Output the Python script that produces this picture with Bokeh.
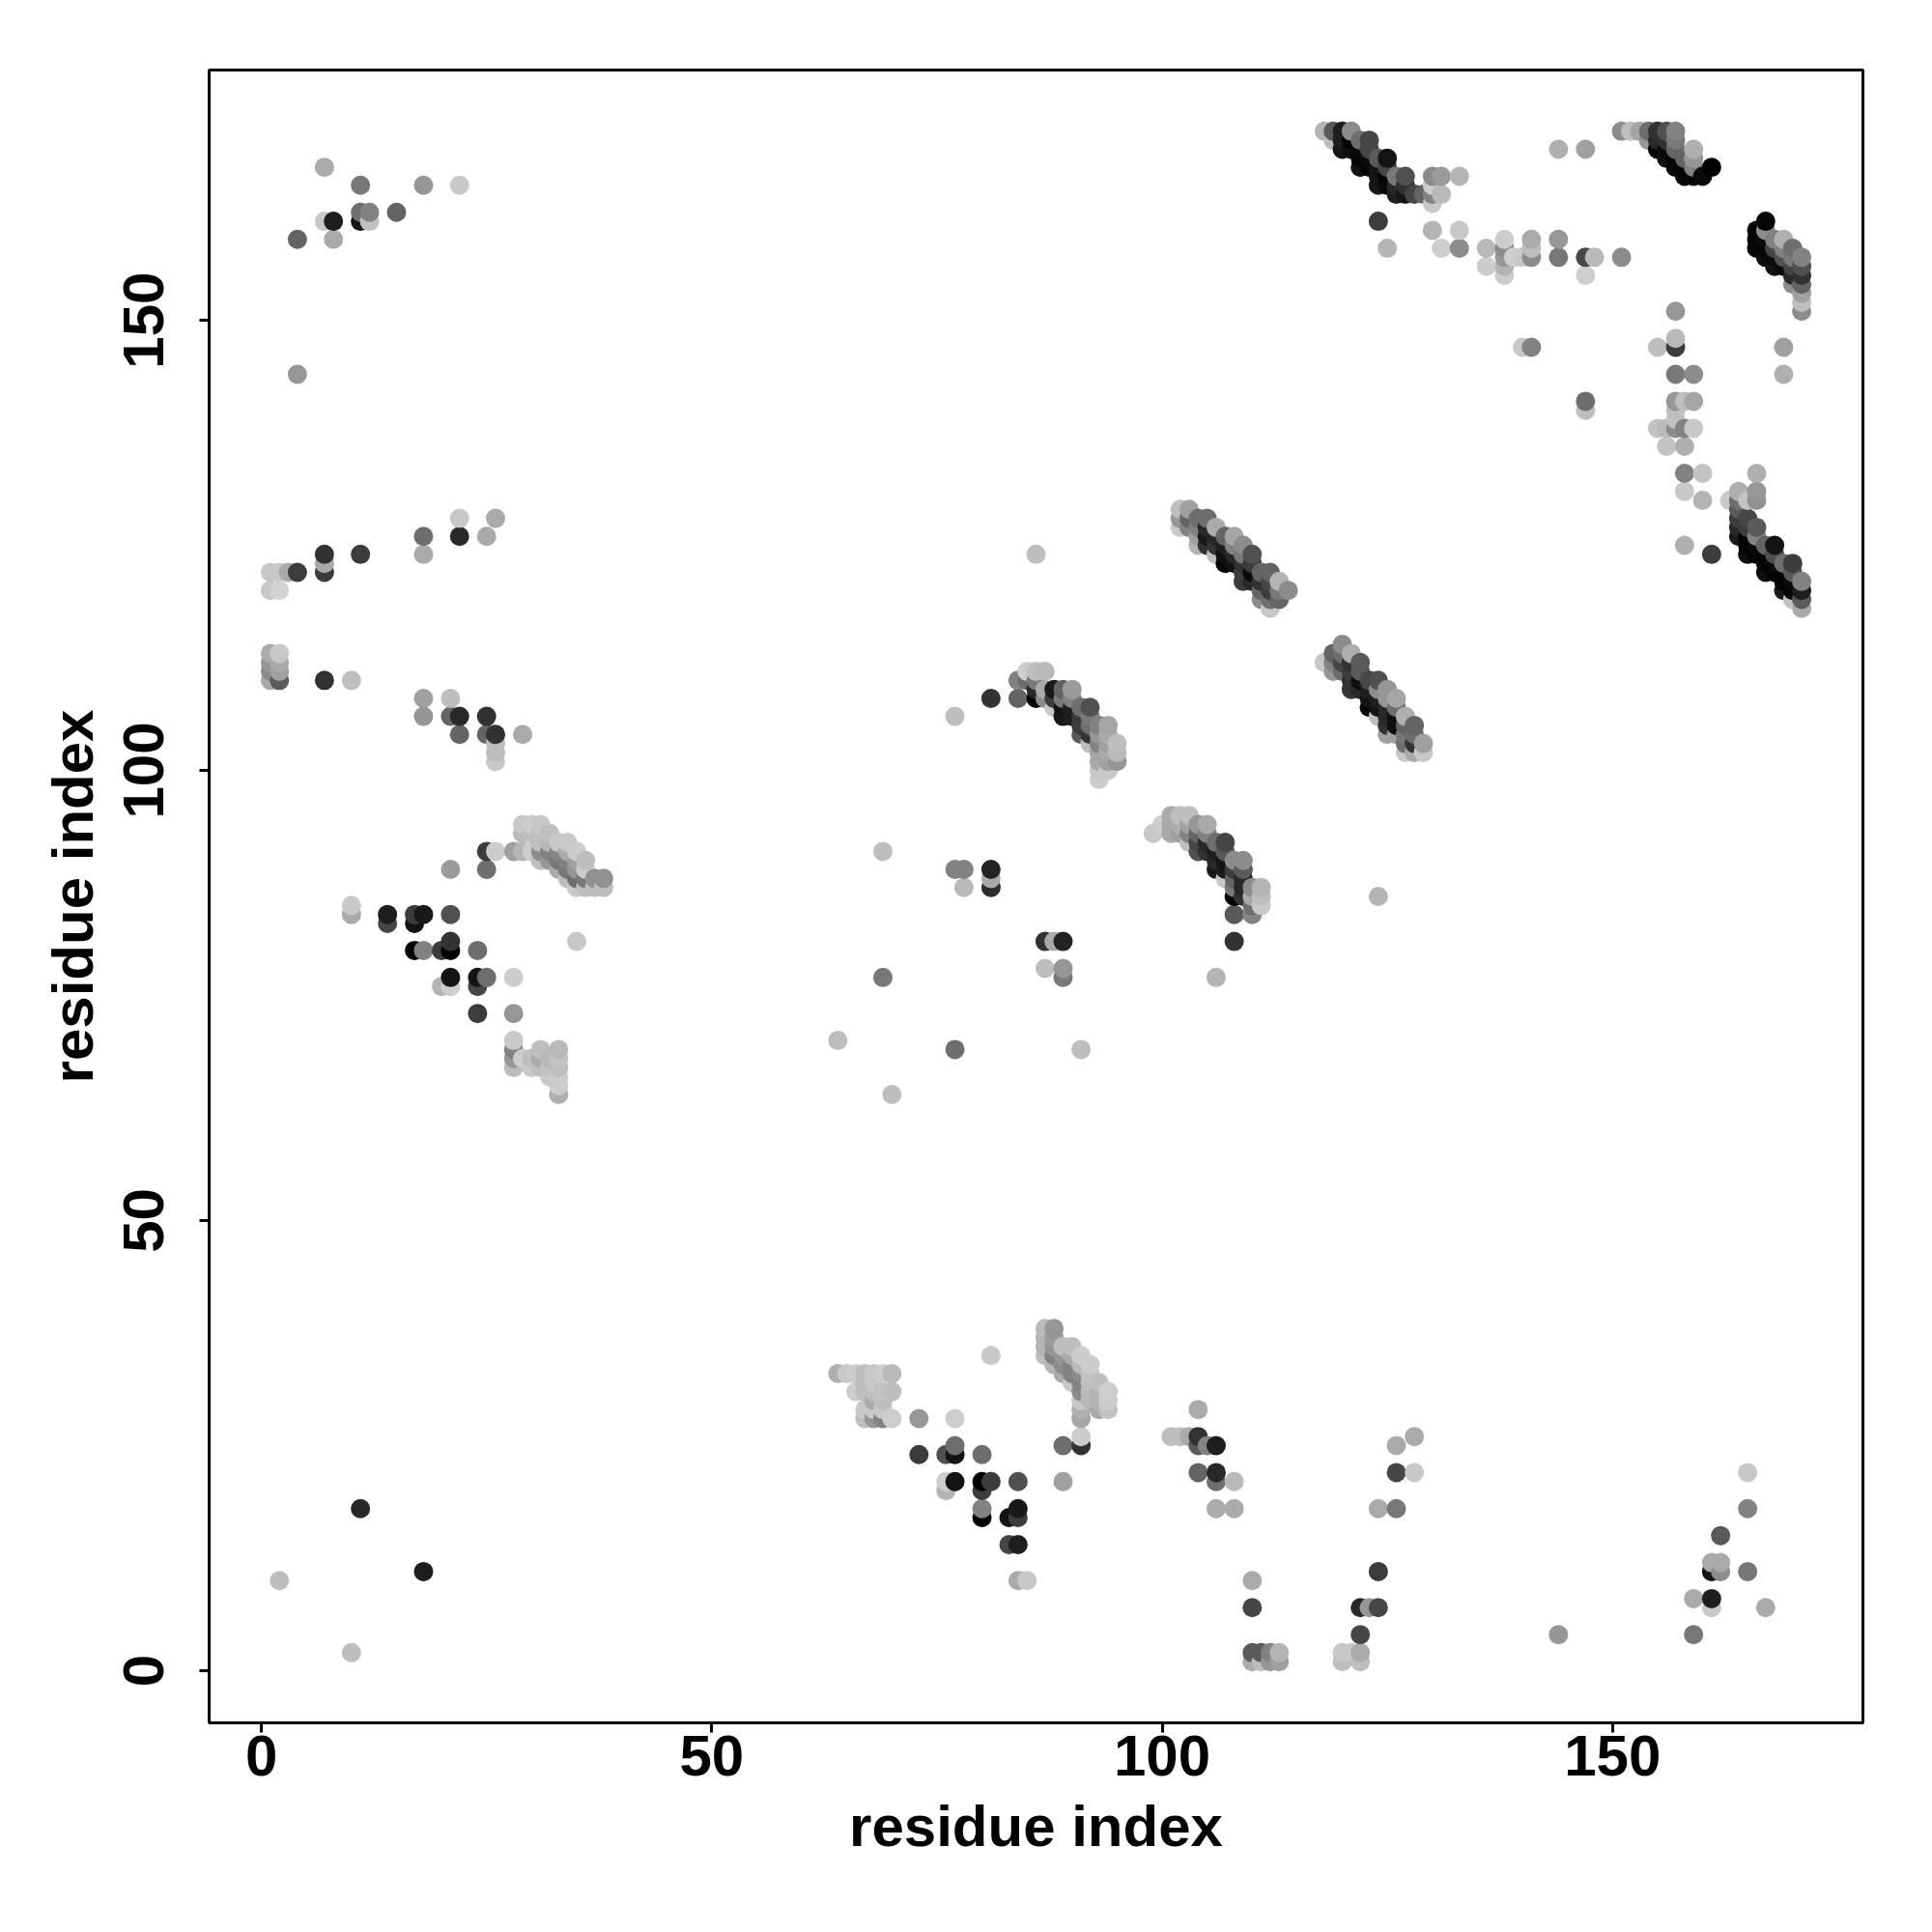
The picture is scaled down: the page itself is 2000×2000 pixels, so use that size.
from bokeh.plotting import figure
from bokeh.embed import file_html
from bokeh.resources import INLINE
from bokeh.models import FixedTicker, Range1d

tick_values = [0, 50, 100, 150]
axis_title = "residue index"

# each entry: residue i, residue j, grey level
upper_left = [
    (7,167,170),(11,165,120),(18,165,150),(22,165,200),(11,162,110),(12,162,130),(15,162,100),
    (7,161,200),(8,161,30),(11,161,20),(12,161,190),(4,159,100),(8,159,170),(4,144,150),
]
left_mid = [
    (22,128,200),(26,128,170),(18,126,110),(22,126,40),(25,126,170),(7,124,50),(11,124,60),(18,124,170),
    (7,123,170),(7,122,60),(1,122,200),(2,122,200),(3,122,170),(4,122,60),(1,120,200),(2,120,210),
    (1,113,170),(2,113,200),(1,112,150),(2,112,170),(1,111,140),(2,111,160),(1,110,170),(2,110,90),
    (7,110,50),(10,110,190),(18,108,160),(21,108,190),(18,106,150),(21,106,100),(22,106,40),(25,106,50),
    (22,104,100),(25,104,100),(26,104,50),(29,104,170),(26,103,190),(26,102,190),(26,101,200),
]
left_lower = [
    (25,91,60),(26,91,205),(21,89,155),(25,89,110),(10,85,200),(10,84,170),(14,84,30),(14,83,70),
    (17,84,60),(17,83,20),(18,84,25),(21,84,80),(17,80,5),(18,80,130),(20,80,60),(21,80,0),(21,81,50),(24,80,110),
    (21,77,20),(20,76,180),(21,76,205),(24,77,20),(24,76,70),(25,77,110),(28,77,205),(24,73,60),(28,73,150),
    (28,70,200),(28,69,130),(28,68,150),(28,67,190),(29,68,205),(30,67,200),(30,68,190),(31,69,190),(31,68,170),
    (31,67,190),(32,68,185),(32,67,195),(32,66,200),(33,69,185),(33,68,195),(33,67,190),(33,66,205),(33,65,205),(33,64,175),(35,81,200),
]
arc_a = [
    (29,94,200),(30,94,205),(31,94,200),(29,93,185),(30,93,190),(31,93,190),(32,93,190),
    (31,92,190),(32,92,185),(33,92,200),(34,92,200),(28,91,160),(29,91,180),(30,91,205),
    (31,91,140),(32,91,130),(33,91,135),(34,91,170),(35,91,205),
    (31,90,190),(32,90,150),(33,90,120),(34,90,130),(35,90,160),(36,90,190),
    (33,89,170),(34,89,120),(35,89,150),(36,89,205),
    (34,88,190),(35,88,110),(36,88,120),(37,88,145),(38,88,145),
    (35,87,200),(36,87,190),(37,87,190),(38,87,190),
]
bottom_left = [(2,10,190),(10,2,190),(11,18,40),(18,11,30)]
fan_b = [
    (64,33,175),(65,33,200),(66,33,205),(67,33,190),(68,33,200),(69,33,205),(70,33,185),
    (67,32,190),(68,32,200),(66,31,205),(67,31,190),(68,31,190),(69,31,195),(70,31,190),
    (68,30,170),(69,30,190),(67,29,200),(68,29,200),(69,29,200),
    (67,28,190),(68,28,150),(69,28,130),(70,28,205),(73,28,150),(77,28,205),
    (73,24,60),(76,24,80),(77,24,20),(77,25,110),(80,24,110),
    (76,21,205),(76,20,180),(77,21,20),(80,21,0),(81,21,60),(80,20,60),(84,21,80),(89,21,160),
    (80,18,130),(80,17,0),(83,17,20),(84,18,25),(84,17,60),(83,14,70),(84,14,30),(84,10,170),(85,10,200),(81,35,200),
    (89,25,110),(91,25,50),(91,26,205),
]
arc_c = [
    (87,38,185),(88,38,150),(87,37,180),(88,37,155),(87,36,180),(88,36,150),(89,36,190),(90,36,190),
    (87,35,190),(88,35,130),(89,35,150),(90,35,170),(91,35,205),
    (88,34,180),(89,34,140),(90,34,130),(91,34,185),(92,34,205),
    (89,33,170),(90,33,130),(91,33,140),(92,33,195),
    (90,32,200),(91,32,130),(92,32,190),(93,32,190),
    (91,31,140),(92,31,185),(93,31,180),(94,31,205),
    (91,30,200),(92,30,185),(93,30,180),(94,30,205),
    (91,29,175),(93,29,170),(94,29,195),(91,28,165),
]
bottom_right = [
    (104,29,170),(101,26,190),(102,26,190),(103,26,170),(104,26,50),(104,25,90),(105,25,130),(106,25,30),
    (104,22,100),(106,22,40),(106,21,110),(108,21,185),(106,18,170),(108,18,170),
    (110,10,170),(110,7,70),(110,2,90),(111,2,90),(112,2,130),(113,2,180),(110,1,170),(111,1,190),(112,1,150),(113,1,160),
    (120,2,200),(121,2,200),(120,1,190),(122,2,170),(122,1,190),(122,4,70),(122,7,40),(123,7,150),(124,7,70),(124,11,60),
    (124,18,170),(126,18,120),(126,22,70),(128,22,200),(126,25,170),(128,26,170),(144,4,150),
    (159,4,120),(159,8,170),(161,8,30),(161,7,200),(161,11,20),(161,12,170),(162,11,140),(162,12,170),(162,15,90),
    (165,11,120),(167,7,170),(165,18,130),(165,22,200),
]
middle = [
    (124,86,180),(69,91,190),(77,89,130),(78,89,130),(78,87,185),(81,89,35),(81,88,170),(81,87,45),
    (87,81,50),(88,81,170),(89,81,35),(87,78,190),(89,78,150),(89,77,120),(69,77,120),(64,70,190),
    (77,69,110),(91,69,190),(70,64,190),(106,77,180),(77,106,190),(81,108,50),(84,108,100),(86,124,190),
]
arc_d = [
    (85,111,205),(86,111,190),(87,111,185),(84,110,130),(85,110,110),(86,110,120),
    (86,109,40),(87,109,170),(88,109,25),(89,109,100),(90,109,155),
    (86,108,0),(87,108,140),(88,108,60),(89,108,120),(90,108,130),
    (88,107,200),(89,107,20),(90,107,30),(91,107,110),(92,107,80),
    (89,106,25),(90,106,30),(91,106,60),(92,106,120),
    (91,105,60),(92,105,110),(93,105,130),(94,105,165),
    (91,104,90),(92,104,50),(93,104,150),(94,104,170),
    (92,103,190),(93,103,130),(94,103,160),(95,103,190),
    (93,102,165),(94,102,170),(95,102,185),(93,101,170),(94,101,160),(95,101,150),
    (93,100,200),(94,100,200),(93,99,205),
]
arc_e = [
    (101,95,170),(102,95,190),(103,95,190),
    (100,94,205),(101,94,170),(102,94,175),(103,94,160),(104,94,150),(105,94,170),
    (99,93,200),(101,93,170),(102,93,160),(103,93,130),(104,93,100),(105,93,130),
    (103,92,190),(104,92,70),(105,92,40),(106,92,110),(107,92,70),
    (104,91,80),(105,91,50),(106,91,30),(107,91,90),
    (106,90,40),(107,90,20),(108,90,140),(109,90,140),
    (106,89,25),(107,89,30),(108,89,60),(109,89,90),
    (107,88,200),(108,88,100),(109,88,40),
    (108,87,120),(109,87,40),(110,87,140),(111,87,180),
    (108,86,5),(109,86,50),(110,86,170),(111,86,190),
    (110,85,110),(111,85,200),(108,84,90),(110,84,130),(108,81,50),
]
strand_f = [
    (102,129,190),(103,129,160),(102,128,150),(103,128,100),(104,128,110),(105,128,110),
    (102,127,200),(103,127,130),(104,127,130),(105,127,40),(106,127,170),
    (104,126,160),(105,126,25),(106,126,40),(107,126,100),(108,126,165),
    (104,125,180),(105,125,50),(106,125,50),(107,125,30),(108,125,130),(109,125,140),
    (106,124,190),(107,124,15),(108,124,40),(109,124,120),(110,124,80),
    (107,123,5),(108,123,20),(109,123,50),(110,123,60),
    (109,122,60),(110,122,10),(111,122,100),(112,122,100),
    (109,121,60),(110,121,40),(111,121,50),(112,121,70),(113,121,180),
    (111,120,100),(112,120,60),(113,120,120),(114,120,140),
    (111,119,140),(112,119,110),(113,119,100),(112,118,200),
]
strand_g = [
    (120,114,140),(119,113,100),(120,113,110),(121,113,175),
    (118,112,200),(119,112,130),(120,112,70),(121,112,50),(122,112,90),
    (119,111,150),(120,111,110),(121,111,60),(122,111,90),
    (121,110,50),(122,110,15),(123,110,70),(124,110,80),
    (121,109,55),(122,109,40),(123,109,30),(124,109,140),(125,109,150),
    (123,108,20),(124,108,30),(125,108,150),(126,108,165),
    (123,107,5),(124,107,20),(125,107,40),(126,107,110),
    (124,106,190),(125,106,40),(126,106,15),(127,106,175),
    (125,105,50),(126,105,15),(127,105,100),(128,105,100),
    (125,104,160),(126,104,160),(127,104,120),(128,104,110),
    (127,103,110),(128,103,50),(129,103,160),(127,102,200),(128,102,170),(129,102,200),
]
strand_h = [
    (118,171,180),(119,171,90),(120,171,30),(121,171,140),(122,170,110),(123,170,70),
    (119,170,190),(120,170,30),(121,170,5),(120,169,20),(121,169,15),(122,169,10),(123,169,70),
    (125,168,20),(124,168,90),(123,168,10),(122,168,5),(122,167,20),(123,167,5),(124,167,20),(125,167,70),
    (124,166,20),(125,166,5),(126,166,120),(127,166,80),(130,166,140),(131,166,155),(133,166,180),
    (124,165,25),(125,165,10),(126,165,40),(127,165,50),(130,165,205),
    (126,164,30),(127,164,20),(128,164,70),(129,164,100),(130,164,130),(131,164,185),(130,163,200),
    (124,161,60),(130,160,180),(133,160,200),(125,158,180),(131,158,205),(133,158,140),
]
band_i = [
    (136,158,185),(138,159,205),(141,159,170),(144,159,150),(136,156,205),(138,155,205),(138,156,180),
    (138,157,150),(138,158,140),(139,157,205),(140,157,200),(141,157,140),(141,158,190),(144,157,120),
    (147,157,70),(148,157,185),(151,157,140),(147,155,205),(144,169,175),(147,169,160),
    (140,147,200),(141,147,130),(147,141,110),(147,140,190),
]
strand_j = [
    (151,171,140),(152,171,190),(153,171,165),(154,171,110),(155,171,50),(156,171,80),(157,171,130),
    (154,170,150),(155,170,40),(156,170,50),(157,170,120),
    (155,169,5),(156,169,10),(157,169,100),(159,169,175),
    (156,168,15),(157,168,5),(158,168,100),(159,168,150),
    (157,167,5),(158,167,5),(159,167,130),(161,167,0),(158,166,5),(159,166,5),(160,166,10),
]
strand_k = [
    (167,161,5),(166,160,5),(167,160,140),(166,159,5),(167,159,10),(168,159,130),(169,159,175),
    (166,158,5),(167,158,5),(168,158,70),(169,158,130),(170,158,110),
    (167,157,15),(168,157,10),(169,157,80),(170,157,120),(171,157,130),
    (168,156,20),(169,156,10),(170,156,70),(171,156,80),(170,155,40),(171,155,50),
    (170,154,140),(171,154,100),(171,153,160),(171,152,190),(171,151,140),
]
right_column = [
    (157,151,150),(157,148,185),(157,147,60),(155,147,190),(169,147,160),(157,144,120),(159,144,140),(169,144,175),
    (157,141,150),(158,141,190),(159,141,165),(157,140,190),(157,139,195),
    (155,138,195),(156,138,185),(157,138,140),(158,138,130),(159,138,200),(156,136,195),(158,136,175),
    (158,133,130),(160,133,195),(166,133,175),(158,131,200),(160,130,180),(158,125,175),(161,124,60),
]
strand_l = [
    (163,130,200),(164,131,175),(165,130,195),(166,131,150),(166,130,145),(164,130,110),(164,129,90),
    (164,128,60),(165,128,70),(164,127,40),(165,127,60),(166,127,90),(164,126,25),(165,126,5),(166,126,130),
    (167,125,100),(168,125,20),(165,125,5),(165,124,15),(166,125,10),(166,124,5),(167,124,5),(168,124,80),
    (169,123,110),(170,123,60),(167,123,5),(168,123,10),(167,122,15),(168,122,5),(169,122,5),(170,122,90),
    (169,121,5),(170,121,10),(171,121,130),(169,120,25),(170,120,5),(171,120,30),
    (170,119,195),(171,119,90),(171,118,170),
]

contacts = sorted(
    upper_left + left_mid + left_lower + arc_a + bottom_left + fan_b + arc_c + bottom_right + middle
    + arc_d + arc_e + strand_f + strand_g + strand_h + band_i + strand_j + strand_k + right_column + strand_l
)
res_i = [c[0] for c in contacts]
res_j = [c[1] for c in contacts]
colors = ["#%02x%02x%02x" % (c[2], c[2], c[2]) for c in contacts]

FONT = "Liberation Sans"

p = figure(width=1984, height=1984, output_backend="svg", toolbar_location=None,
           x_range=Range1d(-5.8, 177.8), y_range=Range1d(-5.8, 177.8),
           min_border_left=216, min_border_right=56, min_border_top=72, min_border_bottom=201,
           background_fill_color="white", border_fill_color="white")
p.grid.visible = False
p.outline_line_color = "black"
p.outline_line_width = 3
p.scatter(res_i, res_j, size=20, marker="circle", fill_color=colors, line_color=None)

for ax in (p.xaxis[0], p.yaxis[0]):
    ax.ticker = FixedTicker(ticks=tick_values)
    ax.minor_tick_line_color = None
    ax.axis_line_color = None
    ax.major_tick_line_color = "black"
    ax.major_tick_line_width = 3
    ax.major_tick_in = 0
    ax.major_tick_out = 10
    ax.major_label_text_font = FONT
    ax.major_label_text_font_style = "bold"
    ax.major_label_text_font_size = "60px"
    ax.major_label_text_color = "black"
    ax.axis_label = axis_title
    ax.axis_label_text_font = FONT
    ax.axis_label_text_font_style = "bold"
    ax.axis_label_text_font_size = "60px"
    ax.axis_label_text_color = "black"
p.xaxis[0].major_label_standoff = 3
p.xaxis[0].axis_label_standoff = 16
p.yaxis[0].major_label_orientation = "vertical"
p.yaxis[0].major_label_standoff = 37
p.yaxis[0].axis_label_standoff = 17

open("out.html", "w").write(file_html(p, INLINE))
